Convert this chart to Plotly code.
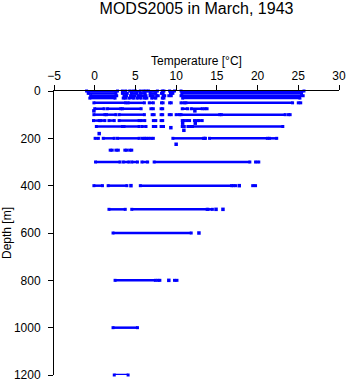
import plotly.graph_objects as go

# Segments of dense observations: depth [m], min temp, max temp [°C]
seg_depth = (
    [0] * 9 + [10] * 8 + [20] * 9 + [30] * 8 + [50] * 8 + [75] * 8 + [100] * 10 + [125] * 11
    + [150] * 8 + [200] * 10 + [250] * 4 + [300] * 6 + [400] * 5 + [500] * 3
    + [600] * 1 + [800] * 3 + [1000] * 1 + [1200] * 1
)
seg_tmin = [
    -1.0, 3.4, 4.3, 5.0, 6.0, 6.6, 8.3, 9.2, 10.6,
    -0.8, 3.4, 4.5, 5.6, 6.8, 8.2, 9.3, 10.7,
    -0.5, 3.6, 4.4, 5.3, 6.8, 7.6, 8.4, 9.1, 10.6,
    -0.6, 3.5, 4.2, 5.2, 6.1, 7.0, 8.3, 10.8,
    -0.1, 4.1, 6.7, 8.2, 9.2, 10.6, 11.2, 25.0,
    0.0, 1.55, 3.4, 6.9, 8.15, 10.75, 11.85, 13.5,
    -0.1, 1.45, 3.0, 7.05, 8.15, 9.15, 10.0, 10.6, 15.55, 23.8,
    -0.15, 0.75, 1.75, 3.0, 5.7, 7.2, 8.15, 10.75, 11.3, 12.25, 12.8,
    0.2, 3.6, 5.8, 7.2, 8.15, 10.75, 11.45, 12.0,
    0.05, 1.05, 2.8, 5.8, 6.3, 6.9, 9.6, 13.5, 14.1, 21.45,
    1.9, 2.6, 3.7, 4.3,
    0.1, 3.5, 4.55, 5.8, 7.3, 19.75,
    -0.1, 1.65, 5.6, 17.0, 19.4,
    1.75, 4.55, 13.9,
    2.25,
    2.5, 7.75, 9.8,
    2.25,
    2.4,
]
seg_tmax = [
    2.8, 3.8, 4.7, 5.6, 6.3, 7.7, 8.5, 9.8, 25.7,
    2.6, 4.0, 5.2, 6.2, 7.5, 8.4, 9.6, 25.4,
    2.7, 3.9, 4.9, 6.3, 7.2, 7.8, 8.6, 9.4, 25.6,
    2.5, 3.8, 4.8, 5.7, 6.4, 7.5, 8.5, 25.2,
    3.8, 6.1, 7.2, 8.4, 9.4, 11.0, 24.3, 25.3,
    1.15, 3.2, 5.7, 7.2, 8.35, 11.4, 13.2, 13.8,
    1.25, 2.6, 6.1, 7.3, 8.35, 9.4, 10.4, 15.35, 23.4, 24.0,
    0.55, 1.25, 2.4, 5.45, 6.15, 7.5, 8.35, 11.0, 11.65, 12.65, 13.2,
    3.4, 5.45, 6.3, 7.5, 8.45, 11.0, 11.75, 23.1,
    0.45, 2.4, 5.45, 6.1, 6.6, 7.2, 13.35, 13.6, 21.2, 22.35,
    2.15, 2.9, 3.95, 4.55,
    3.1, 4.2, 5.25, 6.5, 19.05, 20.15,
    0.95, 3.95, 16.8, 17.3, 19.75,
    3.75, 13.8, 14.45,
    11.85,
    7.45, 8.0, 10.1,
    5.25,
    4.1,
]

# Isolated observations
pt_depth = [84, 84, 136, 136, 155, 166, 180, 225, 400, 400, 500, 500, 600, 800]
pt_temp = [-0.1, 12.3, 10.8, 12.35, 9.35, 10.95, 0.55, 10.0, 4.45, 17.75, 14.9, 15.75, 12.8, 9.1]

xs, ys = [], []
for d, a, b in zip(seg_depth, seg_tmin, seg_tmax):
    xs += [a, b, None]
    ys += [d, d, None]

blue = "#0000ff"
fig = go.Figure()
fig.add_trace(go.Scatter(
    x=xs, y=ys, mode="lines+markers",
    line=dict(color=blue, width=2.5),
    marker=dict(color=blue, size=3, symbol="square"),
    cliponaxis=False, hoverinfo="skip", showlegend=False,
))
fig.add_trace(go.Scatter(
    x=pt_temp, y=pt_depth, mode="markers",
    marker=dict(color=blue, size=3.5, symbol="square"),
    cliponaxis=False, showlegend=False,
))

font = "Liberation Sans, Arial, sans-serif"
fig.update_layout(
    width=348, height=384,
    margin=dict(l=54, r=9, t=91, b=9, autoexpand=False),
    paper_bgcolor="white", plot_bgcolor="white",
    font=dict(family=font, size=12, color="black"),
    title=dict(text="MODS2005 in March, 1943", x=0.5, xref="paper",
               y=1 - 8 / 384, yref="container", yanchor="middle",
               font=dict(size=16, color="black")),
    xaxis=dict(
        side="top", range=[-5, 30], tickvals=[-5, 0, 5, 10, 15, 20, 25, 30],
        showgrid=False, zeroline=False, showline=True, linecolor="black", linewidth=1,
        ticks="outside", ticklen=5, tickcolor="black", automargin=False,
        title=dict(text="Temperature [°C]", standoff=1, font=dict(size=12)),
    ),
    yaxis=dict(
        range=[1200, 0], tickvals=[0, 200, 400, 600, 800, 1000, 1200],
        showgrid=False, zeroline=False, showline=True, linecolor="black", linewidth=1,
        ticks="outside", ticklen=5, tickcolor="black", ticklabelstandoff=5,
        automargin=False,
        title=dict(text="Depth [m]", standoff=6, font=dict(size=12)),
    ),
)
fig.write_html("out.html")
